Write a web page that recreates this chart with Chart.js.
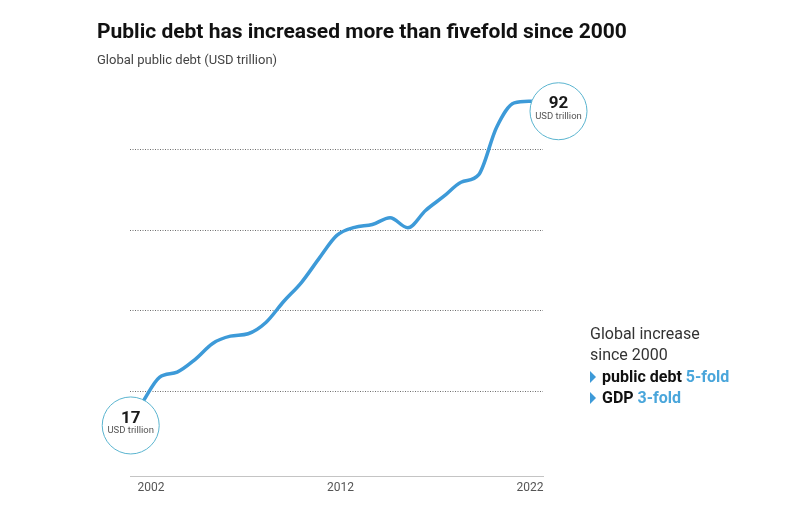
<!DOCTYPE html>
<html>
<head>
<meta charset="utf-8">
<script src="https://cdn.jsdelivr.net/npm/chart.js@4.4.1/dist/chart.umd.min.js"></script>
<style>
  html, body { margin: 0; padding: 0; background: #fff; }
  body { width: 800px; height: 509px; position: relative; overflow: hidden; font-family: Roboto, "Noto Sans", sans-serif; }
  #c { position: absolute; left: 0; top: 0; }
  .title { position: absolute; left: 97px; top: 19px; font-size: 21px; font-weight: 700; color: #111; white-space: nowrap; }
  .subtitle { position: absolute; left: 97px; top: 52px; font-size: 13px; color: #444; white-space: nowrap; }
  .side { position: absolute; left: 590px; top: 323px; font-size: 16px; color: #333; line-height: 21.3px; white-space: nowrap; }
  .side b { color: #111; }
  .side .hl { color: #4aa6db; font-weight: 700; }
  .tri { display: inline-block; width: 0; height: 0; border-left: 6px solid #3d9ad8; border-top: 6px solid transparent; border-bottom: 6px solid transparent; margin-right: 6px; vertical-align: -1px; }
</style>
</head>
<body>
<canvas id="c" width="800" height="509"></canvas>
<div class="title">Public debt has increased more than fivefold since 2000</div>
<div class="subtitle">Global public debt (USD trillion)</div>
<div class="side">
  <div>Global increase</div>
  <div>since 2000</div>
  <div><span class="tri"></span><b>public debt</b> <span class="hl">5-fold</span></div>
  <div><span class="tri"></span><b>GDP</b> <span class="hl">3-fold</span></div>
</div>
<script>
// Data
const years = [2000, 2001, 2002, 2003, 2004, 2005, 2006, 2007, 2008, 2009, 2010, 2011,
               2012, 2013, 2014, 2015, 2016, 2017, 2018, 2019, 2020, 2021, 2022];
const debt  = [17, 23.5, 24.8, 27.9, 31.9, 33.7, 34.3, 37.1, 42.3, 47.0, 53.0, 58.7,
               60.7, 61.4, 63.1, 60.6, 64.9, 68.3, 71.9, 73.8, 85.5, 91.6, 92];
const tickYears = [2002, 2012, 2022];
const gridValues = [20, 40, 60, 80];
const unitLabel = 'USD trillion';

const circlePlugin = {
  id: 'endCircles',
  afterDatasetsDraw(chart) {
    const ctx = chart.ctx;
    const meta = chart.getDatasetMeta(0);
    const pts = meta.data;
    const specs = [
      { el: pts[0], dx: -11, dy: 22, value: debt[0] },
      { el: pts[pts.length - 1], dx: 26.5, dy: 10, value: debt[debt.length - 1] }
    ];
    ctx.save();
    specs.forEach(s => {
      const cx = s.el.x + s.dx, cy = s.el.y + s.dy, r = 28.5;
      ctx.beginPath();
      ctx.arc(cx, cy, r, 0, Math.PI * 2);
      ctx.fillStyle = '#ffffff';
      ctx.fill();
      ctx.lineWidth = 1;
      ctx.strokeStyle = '#5ab4cf';
      ctx.stroke();
      ctx.fillStyle = '#1a1a1a';
      ctx.textAlign = 'center';
      ctx.textBaseline = 'middle';
      ctx.font = '700 17px Roboto, sans-serif';
      ctx.fillText(String(s.value), cx, cy - 7);
      ctx.fillStyle = '#555';
      ctx.font = '400 9.5px Roboto, sans-serif';
      ctx.fillText(unitLabel, cx, cy + 5.5);
    });
    ctx.restore();
  }
};

new Chart(document.getElementById('c'), {
  type: 'line',
  data: {
    datasets: [{
      data: years.map((y, i) => ({ x: y, y: debt[i] })),
      borderColor: '#3d9ad8',
      borderWidth: 3.5,
      pointRadius: 0,
      cubicInterpolationMode: 'monotone',
      fill: false,
      clip: false
    }]
  },
  options: {
    responsive: false,
    animation: false,
    devicePixelRatio: 1,
    layout: { padding: { left: 130, right: 257, top: 69, bottom: 0 } },
    plugins: { legend: { display: false }, tooltip: { enabled: false }, title: { display: false } },
    scales: {
      x: {
        type: 'linear', min: 1999.34, max: 2022.62, display: false
      },
      xl: {
        type: 'linear', axis: 'x', position: 'bottom',
        min: 2000.89, max: 2022.69,
        afterBuildTicks: (s) => { s.ticks = tickYears.map(v => ({ value: v })); },
        afterFit: (s) => { s.height = 33; },
        grid: { display: false, drawTicks: false },
        border: { display: true, color: '#c4c4c4', width: 1 },
        ticks: {
          color: '#555', padding: 5,
          font: { family: 'Roboto', size: 12 },
          callback: (v) => String(v),
          maxRotation: 0, autoSkip: false
        }
      },
      y: {
        min: -1, max: 100,
        afterBuildTicks: (s) => { s.ticks = gridValues.map(v => ({ value: v })); },
        afterFit: (s) => { s.width = 0; },
        ticks: { display: false },
        border: { display: false, dash: [1, 1.5] },
        grid: { color: '#6e6e6e', lineWidth: 1, drawTicks: false }
      }
    }
  },
  plugins: [circlePlugin]
});
</script>
</body>
</html>
